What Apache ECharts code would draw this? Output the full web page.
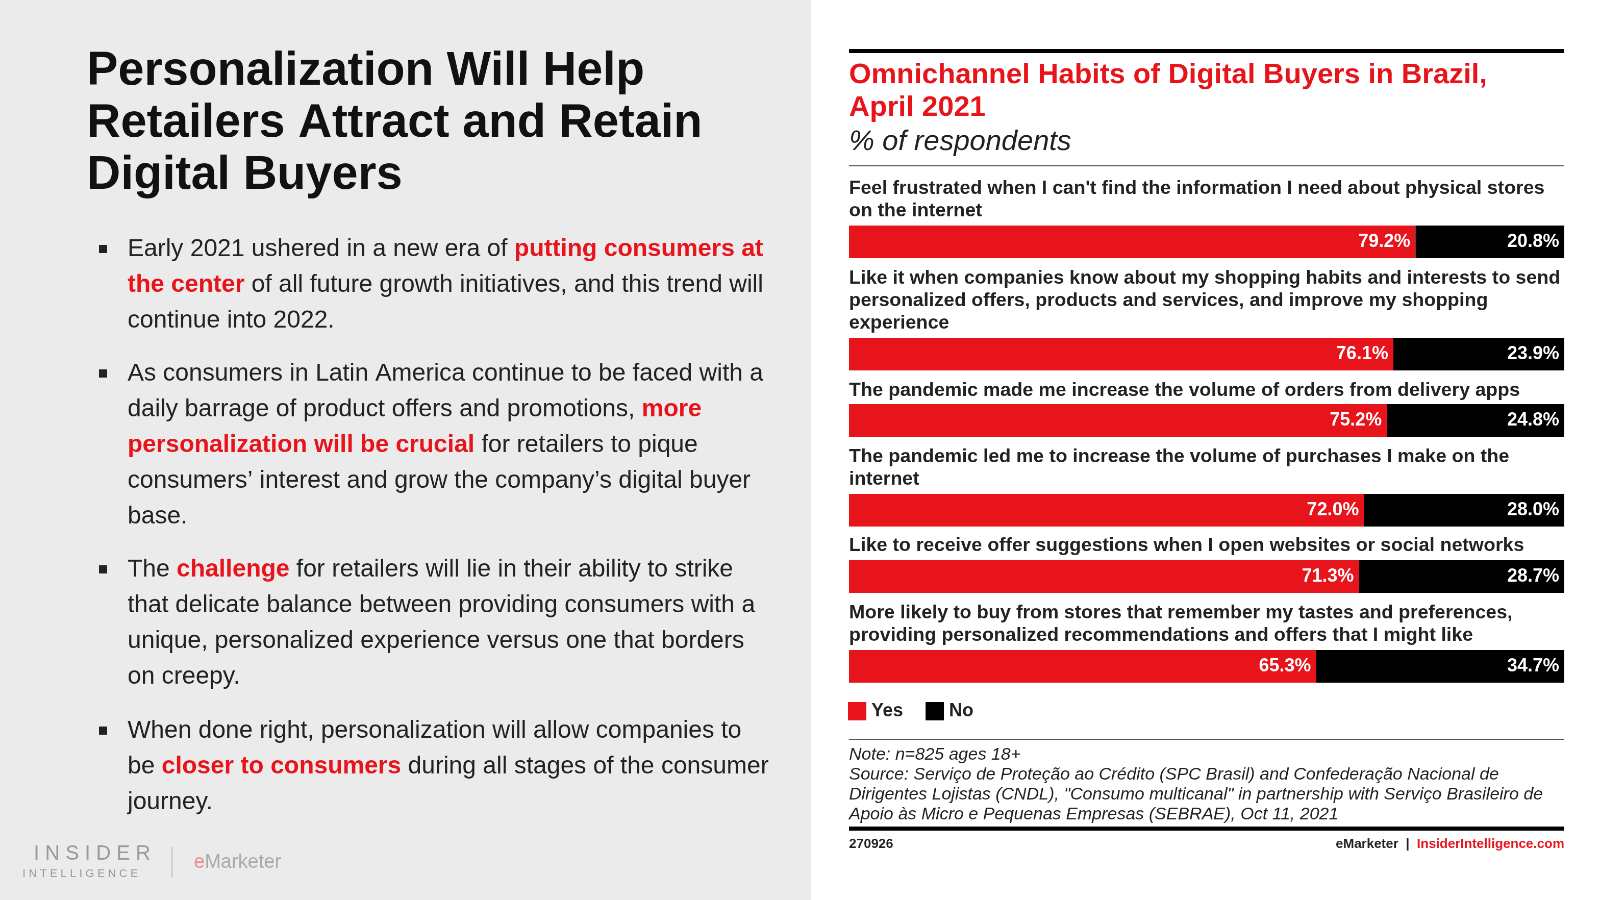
<!DOCTYPE html>
<html><head><meta charset="utf-8">
<script src="https://cdn.jsdelivr.net/npm/echarts@6/dist/echarts.min.js"></script>
<style>html,body{margin:0;padding:0;background:#fff;overflow:hidden}#c{width:1568px;height:900px;transform:scale(1.0204,1.0204);transform-origin:0 0}</style>
</head><body><div id="c"></div>
<script>
var categories = [
  "Feel frustrated when I can't find the information I need about physical stores\non the internet",
  "Like it when companies know about my shopping habits and interests to send\npersonalized offers, products and services, and improve my shopping\nexperience",
  "The pandemic made me increase the volume of orders from delivery apps",
  "The pandemic led me to increase the volume of purchases I make on the\ninternet",
  "Like to receive offer suggestions when I open websites or social networks",
  "More likely to buy from stores that remember my tastes and preferences,\nproviding personalized recommendations and offers that I might like"
];
var yesVals = [79.2, 76.1, 75.2, 72.0, 71.3, 65.3];
var noVals = [20.8, 23.9, 24.8, 28.0, 28.7, 34.7];
var barTops = [221, 331, 396, 484, 549, 637];
var labelTops = [174, 262, 372, 437, 524, 590];

var RED = '#e8141c';
var FONT = '"Liberation Sans", Arial, sans-serif';
var chart = echarts.init(document.getElementById('c'), null, {devicePixelRatio:2});
var grids = [], xAxes = [], yAxes = [], series = [], graphic = [];

// left panel
graphic.push({type:'rect', shape:{x:0,y:0,width:795,height:900}, style:{fill:'#ebebeb'}, z:-10});
graphic.push({type:'text', left:85, top:45, style:{text:'Personalization Will Help\nRetailers Attract and Retain\nDigital Buyers', font:'bold 46px ' + FONT, fill:'#111', lineHeight:51}});
var bullets = [
  {y:227, t:'Early 2021 ushered in a new era of {r|putting consumers at}\n{r|the center} of all future growth initiatives, and this trend will\ncontinue into 2022.'},
  {y:349, t:'As consumers in Latin America continue to be faced with a\ndaily barrage of product offers and promotions, {r|more}\n{r|personalization will be crucial} for retailers to pique\nconsumers\u2019 interest and grow the company\u2019s digital buyer\nbase.'},
  {y:541, t:'The {r|challenge} for retailers will lie in their ability to strike\nthat delicate balance between providing consumers with a\nunique, personalized experience versus one that borders\non creepy.'},
  {y:699, t:'When done right, personalization will allow companies to\nbe {r|closer to consumers} during all stages of the consumer\njourney.'}
];
bullets.forEach(function(b){
  graphic.push({type:'rect', shape:{x:97,y:b.y+13,width:8,height:8}, style:{fill:'#222'}});
  graphic.push({type:'text', left:125, top:b.y, style:{text:b.t, font:'24px ' + FONT, fill:'#222', lineHeight:35,
    rich:{r:{fill:RED, font:'bold 24px ' + FONT, lineHeight:35}}}});
});
graphic.push({type:'text', left:33, top:827, style:{text:'I N S I D E R', font:'20px ' + FONT, fill:'#999'}});
graphic.push({type:'text', left:22, top:851, style:{text:'I N T E L L I G E N C E', font:'11px ' + FONT, fill:'#999'}});
graphic.push({type:'rect', shape:{x:168,y:830,width:1,height:30}, style:{fill:'#bbb'}});
graphic.push({type:'text', left:190, top:836, style:{text:'{e|e}Marketer', font:'19px ' + FONT, fill:'#aaa', rich:{e:{fill:'#f08a8a', font:'19px ' + FONT}}}});

// right header
graphic.push({type:'rect', shape:{x:832,y:48,width:701,height:4}, style:{fill:'#000'}});
graphic.push({type:'text', left:832, top:58, style:{text:'Omnichannel Habits of Digital Buyers in Brazil,\nApril 2021', font:'bold 28px ' + FONT, fill:RED, lineHeight:32}});
graphic.push({type:'text', left:832, top:125, style:{text:'% of respondents', font:'italic 28px ' + FONT, fill:'#222'}});
graphic.push({type:'rect', shape:{x:832,y:162,width:701,height:1}, style:{fill:'#555'}});

categories.forEach(function(c,i){
  graphic.push({type:'text', left:832, top:labelTops[i], style:{text:c, font:'bold 18.8px ' + FONT, fill:'#222', lineHeight:22}});
  grids.push({left:832, top:barTops[i], width:701, height:32});
  xAxes.push({gridIndex:i, type:'value', min:0, max:100, show:false});
  yAxes.push({gridIndex:i, type:'category', data:[c], show:false});
  var lbl = {show:true, position:'insideRight', color:'#fff', fontWeight:'bold', fontSize:18, fontFamily:FONT, distance:5, formatter:function(p){return p.value.toFixed(1)+'%';}};
  series.push({name:'Yes', type:'bar', stack:'s'+i, xAxisIndex:i, yAxisIndex:i, barWidth:'100%', itemStyle:{color:RED}, label:lbl, data:[yesVals[i]], silent:true});
  series.push({name:'No', type:'bar', stack:'s'+i, xAxisIndex:i, yAxisIndex:i, barWidth:'100%', itemStyle:{color:'#000'}, label:lbl, data:[noVals[i]], silent:true});
});

// footer
graphic.push({type:'rect', shape:{x:832,y:724,width:701,height:1}, style:{fill:'#555'}});
graphic.push({type:'text', left:832, top:730, style:{text:'Note: n=825 ages 18+\nSource: Servi\u00e7o de Prote\u00e7\u00e3o ao Cr\u00e9dito (SPC Brasil) and Confedera\u00e7\u00e3o Nacional de\nDirigentes Lojistas (CNDL), "Consumo multicanal" in partnership with Servi\u00e7o Brasileiro de\nApoio \u00e0s Micro e Pequenas Empresas (SEBRAE), Oct 11, 2021', font:'italic 17px ' + FONT, fill:'#222', lineHeight:19.5}});
graphic.push({type:'rect', shape:{x:832,y:810,width:701,height:4}, style:{fill:'#000'}});
graphic.push({type:'text', left:832, top:821, style:{text:'270926', font:'bold 13px ' + FONT, fill:'#222'}});
graphic.push({type:'text', right:35, top:821, style:{text:'eMarketer  |  {r|InsiderIntelligence.com}', font:'bold 13px ' + FONT, fill:'#222', rich:{r:{fill:RED, font:'bold 13px ' + FONT}}}});

chart.setOption({
  animation:false,
  legend:{data:['Yes','No'], left:826, top:683, icon:'rect', itemWidth:18, itemHeight:18, itemGap:22,
    textStyle:{fontSize:18, fontWeight:'bold', color:'#222', fontFamily:FONT}},
  grid:grids, xAxis:xAxes, yAxis:yAxes, series:series, graphic:graphic
});
</script></body></html>
